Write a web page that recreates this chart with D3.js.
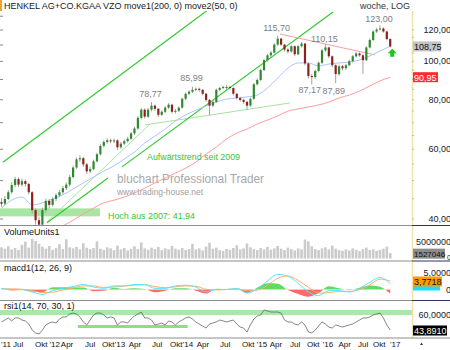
<!DOCTYPE html>
<html>
<head>
<meta charset="utf-8">
<style>
  body { margin: 0; background: #fff; }
  svg { display: block; font-family: "Liberation Sans", Arial, sans-serif; }
</style>
</head>
<body>
<svg width="450" height="350"></svg>
<script src="https://d3js.org/d3.v7.min.js"></script>
<script>
// one bar every 0.05 year, first bar at 2011.23
var start = 2011.23, step = 0.05;
var firstOpen = 44.0;
var closes = [43.6, 44.8, 46.6, 48.6, 50.3, 48.7, 49.7, 48.9, 46.6, 42.0,
  39.6, 38.6, 42.0, 44.3, 43.3, 44.8, 45.8, 46.6, 47.7, 48.7,
  50.9, 53.8, 56.4, 56.8, 54.8, 52.6, 53.3, 55.8, 58.1, 61.0,
  62.4, 63.0, 62.7, 63.0, 60.5, 61.8, 62.7, 63.6, 65.6, 67.5,
  71.8, 75.3, 72.3, 75.3, 77.1, 75.7, 73.1, 74.4, 76.2, 77.5,
  74.4, 74.8, 76.2, 80.2, 82.6, 83.6, 84.5, 85.0, 84.5, 82.6,
  79.7, 77.1, 78.8, 84.5, 85.4, 85.9, 85.9, 85.4, 82.6, 80.6,
  79.7, 78.8, 77.1, 80.2, 87.3, 89.5, 94.8, 100.4, 103.3, 104.9,
  109.9, 113.8, 109.9, 106.8, 105.6, 108.9, 103.9, 108.9, 110.6, 98.5,
  91.6, 91.0, 94.3, 98.9, 106.3, 108.1, 102.7, 97.5, 92.6, 96.9,
  95.8, 97.5, 99.8, 102.7, 104.4, 103.3, 100.4, 108.1, 112.9, 118.6,
  120.0, 120.7, 118.6, 113.5, 108.75];
var highs = [45.0, 45.6, 47.2, 49.4, 51.0, 50.8, 50.4, 50.2, 49.3, 46.9,
  42.4, 40.3, 42.6, 44.9, 44.8, 45.3, 46.3, 47.2, 48.3, 49.3,
  51.5, 54.4, 57.0, 57.8, 57.2, 55.2, 54.0, 56.3, 58.6, 61.6,
  63.0, 63.8, 63.6, 63.7, 63.4, 62.4, 63.3, 64.3, 66.2, 68.2,
  72.5, 76.0, 75.8, 76.0, 78.77, 77.6, 76.1, 75.0, 76.9, 78.2,
  77.9, 75.6, 76.8, 80.8, 83.2, 84.3, 85.99, 85.7, 85.6, 84.9,
  83.0, 80.1, 79.5, 85.1, 86.0, 86.6, 86.8, 86.5, 85.8, 83.1,
  81.2, 80.3, 79.2, 80.8, 87.9, 90.3, 95.6, 101.2, 104.1, 105.9,
  110.8, 115.7, 114.4, 110.5, 107.6, 109.7, 109.4, 109.6, 111.6, 111.0,
  99.0, 92.6, 95.1, 99.7, 107.2, 110.15, 108.7, 103.2, 98.0, 97.8,
  97.6, 98.3, 100.6, 103.5, 105.2, 105.1, 103.9, 108.9, 113.8, 119.5,
  121.0, 123.0, 121.5, 119.2, 114.1];
var lows = [42.8, 43.2, 44.5, 46.2, 48.0, 48.0, 48.2, 48.1, 46.0, 41.2,
  38.6, 37.2, 38.0, 41.4, 42.4, 42.9, 44.2, 45.3, 46.1, 47.2,
  48.2, 50.5, 53.4, 55.6, 54.0, 51.8, 52.0, 53.0, 55.4, 57.7,
  60.5, 61.8, 61.9, 62.0, 59.6, 60.0, 61.2, 62.2, 63.2, 65.0,
  67.0, 71.2, 71.5, 71.8, 74.6, 74.8, 72.2, 72.5, 73.8, 75.6,
  73.6, 73.6, 74.2, 75.8, 79.6, 81.9, 83.0, 83.8, 83.6, 81.8,
  78.9, 72.9, 76.4, 78.3, 83.9, 84.8, 84.9, 84.6, 81.8, 79.8,
  78.9, 77.9, 75.2, 76.6, 79.8, 86.6, 89.0, 94.2, 99.6, 102.4,
  104.2, 109.2, 109.0, 105.6, 104.4, 104.9, 102.8, 103.3, 108.1, 97.4,
  90.2, 87.17, 90.2, 93.6, 98.2, 105.4, 101.6, 96.4, 87.89, 91.8,
  94.6, 95.0, 96.9, 99.1, 101.9, 102.4, 92.8, 99.8, 107.4, 112.2,
  117.6, 119.2, 117.8, 112.6, 108.0];
// weekly volume, millions
var volume = [3.2, 2.8, 3.5, 2.6, 3.0, 2.4, 3.9, 4.8, 3.1, 5.6, 5.0,
  4.2, 3.4, 2.8, 3.6, 2.5, 3.0, 4.1, 2.7, 5.5, 3.2,
  2.9, 3.3, 2.6, 4.4, 3.1, 2.7, 3.0, 4.9, 2.8, 2.5,
  3.2, 2.9, 2.4, 3.7, 2.6, 3.0, 2.3, 2.8, 3.5, 2.7,
  4.6, 2.9, 2.5, 3.1, 2.7, 3.3, 2.4, 2.9, 2.6, 3.6,
  2.8, 2.5, 3.0, 2.4, 2.7, 4.2, 2.6, 2.9, 2.3, 3.4,
  4.5, 2.8, 3.1, 2.4, 2.2, 2.7, 2.5, 3.0, 3.8, 2.6,
  2.9, 4.3, 3.2, 2.7, 2.4, 3.0, 2.6, 3.3, 2.5, 2.9,
  3.6, 2.8, 2.4, 3.1, 2.7, 2.3, 2.9, 2.6, 5.4, 4.9,
  3.5, 2.7, 2.4, 2.9, 3.2, 2.6, 3.7, 2.8, 2.4, 2.2,
  2.6, 2.3, 2.9, 2.5, 2.1, 2.7, 3.1, 2.4, 2.6, 2.2,
  2.5, 2.8, 3.4, 1.527046];
var rsi = [52.5, 54.6, 56.8, 53.6, 56.8, 56.8, 54.6, 53.6, 50.3, 43.9,
  40.7, 39.6, 43.9, 49.3, 51.4, 52.5, 51.4, 55.7, 57.9, 57.9,
  61.1, 62.1, 61.1, 57.9, 52.5, 49.3, 54.6, 60.0, 62.1, 62.1,
  60.0, 56.8, 57.9, 56.8, 49.3, 52.5, 52.5, 51.4, 55.7, 58.9,
  61.1, 63.2, 56.8, 56.8, 54.6, 49.3, 50.3, 51.4, 49.3, 53.6,
  52.5, 49.3, 52.5, 54.6, 56.8, 57.9, 55.7, 52.5, 50.3, 48.2,
  46.0, 50.3, 51.4, 52.5, 54.6, 53.6, 52.5, 53.6, 54.6, 50.3,
  47.1, 46.0, 41.7, 49.3, 55.7, 58.9, 60.0, 65.4, 64.3, 63.2,
  63.2, 63.2, 62.1, 54.6, 52.5, 52.5, 50.3, 49.3, 52.5, 49.3,
  41.7, 40.7, 43.9, 48.2, 52.5, 50.3, 47.1, 46.0, 49.3, 48.2,
  47.1, 48.2, 49.3, 50.3, 52.5, 54.6, 56.8, 56.8, 57.9, 60.0,
  61.1, 62.1, 56.8, 49.3, 43.891];

// smoother series, sampled every third bar
var ma50 = [42.5, 44.5, 45.3, 43.3, 43.8, 44.8, 45.9, 47.5, 49.2, 50.9,
  52.7, 54.3, 56.5, 58.9, 62.0, 64.6, 67.3, 70.5, 73.0, 75.1,
  76.9, 78.7, 80.1, 80.6, 81.1, 82.0, 85.4, 90.5, 95.9, 98.8,
  98.8, 97.1, 98.2, 98.8, 99.3, 100.5, 102.9, 105.9, 109.0];
var ma200 = [null, null, null, null, null, null, 38.3, 39.6, 41.1, 42.5,
  43.8, 44.5, 45.3, 46.4, 47.7, 49.2, 50.6, 52.1, 53.6, 55.5,
  58.2, 60.6, 63.5, 65.7, 67.3, 69.3, 70.9, 72.6, 74.7, 75.6,
  76.5, 77.4, 78.7, 80.6, 82.0, 83.9, 86.4, 89.0, 90.95];
var macd = [0.5, 0, 0, -1.1, -2.2, -0.5, 0.5, 1.3, 2.2, 1.1,
  0.5, 1.6, 1.6, 2.2, 2.2, 0.5, 0.5, 1.6, 1.9, 1.1,
  -1.1, 0, 0, 0.5, -1.6, 0.3, 3.8, 6.7, 5.9, 2.7,
  -1.1, -2.7, -0.5, -0.5, -1.1, 0.5, 3.2, 5.4, 2.6];
var signal = [0.3, 0.3, 0.1, -0.5, -1.4, -1.2, -0.2, 0.7, 1.6, 1.6,
  0.9, 1.1, 1.5, 1.9, 2.1, 1.3, 0.8, 1.2, 1.6, 1.4,
  0.1, -0.2, 0.0, 0.3, -0.6, -0.3, 1.9, 5.0, 6.0, 4.0,
  1.0, -1.6, -1.4, -0.8, -0.9, 0.0, 2.0, 4.6, 3.7718];
var hist = [0.3, -0.4, -0.2, -0.9, -1.2, 1.0, 1.0, 0.9, 0.9, -0.8,
  -0.6, 0.8, 0.2, 0.5, 0.2, -1.2, -0.5, 0.6, 0.5, -0.5,
  -1.8, 0.3, 0.0, 0.3, -1.5, 0.9, 2.8, 2.6, -0.2, -2.0,
  -3.2, -1.6, 1.4, 0.5, -0.3, 0.8, 1.8, 1.2, -1.8];

// drawn lines: [year, price]
var channelTop = [[2011.252, 55.5], [2014.27, 135.0]];
var trend2009 = [[2012.997, 54.0], [2016.091, 132.9]];
var trendShort = [[2011.897, 39.0], [2012.792, 50.6]];
var trendThin = [[2011.897, 39.2], [2013.408, 69.3]];
var support = [[2013.334, 68.9], [2015.46, 78.3]];
var resistance = [[2015.314, 116.9], [2016.707, 103.5]];
var hoch2007 = 41.94, hochSpan = [2011.208, 2012.674];
var rsiBand = [60, 65.4];
var rsiSupport = [[2012.35, 47.6], [2013.96, 47.6]];

var peakBars = [44, 56, 81, 95, 111];
var troughBars = [91, 98];
var priceTicks = [40, 60, 80, 100, 120];
var tickText = ["'11", "Jul", "Okt", "'12", "Apr", "Jul", "Okt", "'13", "Apr", "Jul", "Okt",
  "'14", "Apr", "Jul", "Okt", "'15", "Apr", "Jul", "Okt", "'16", "Apr", "Jul", "Okt", "'17"];
var tickAt = [2011.223, 2011.399, 2011.721, 2011.935, 2012.1, 2012.455, 2012.704, 2012.89, 2013.095, 2013.437, 2013.701,
  2013.887, 2014.092, 2014.434, 2014.757, 2014.972, 2015.163, 2015.46, 2015.71, 2015.94, 2016.17, 2016.457, 2016.677, 2016.927];

var svg = d3.select("svg");
var plotR = 412;
var x = d3.scaleLinear().domain([2012, 2017]).range([54, 395]);
var y = d3.scaleLog().domain([40, 120]).range([218.5, 29.5]);
var yVol = d3.scaleLinear().domain([0, 5]).range([258.5, 241]);
var yMacd = d3.scaleLinear().domain([0, 3.7718]).range([289.5, 281]);
var yRsi = d3.scaleLinear().domain([43.891, 60]).range([330, 315]);

var fmt2 = function (v) { return d3.format(".2f")(v).replace(".", ","); };
var fmt4 = function (v) { return d3.format(".4f")(v).replace(".", ","); };

var bars = closes.map(function (c, i) {
  return { i: i, t: start + step * i, o: i ? closes[i - 1] : firstOpen, h: highs[i], l: lows[i], c: c, v: volume[i], r: rsi[i] };
});
var samples = ma50.map(function (m, k) {
  return { t: start + 3 * step * k, m50: m, m200: ma200[k], macd: macd[k], sig: signal[k], h: hist[k] };
});

var defs = svg.append("defs");
function clip(id, y0, y1) {
  defs.append("clipPath").attr("id", id).append("rect")
    .attr("x", 0).attr("y", y0).attr("width", plotR).attr("height", y1 - y0);
}
clip("cMain", 11, 225);
clip("cVol", 226, 261);
clip("cMacd", 262, 300);
clip("cRsi", 301, 338);
defs.append("clipPath").attr("id", "cPos").append("rect").attr("x", 0).attr("y", 262).attr("width", plotR).attr("height", yMacd(0) - 262);
defs.append("clipPath").attr("id", "cNeg").append("rect").attr("x", 0).attr("y", yMacd(0)).attr("width", plotR).attr("height", 300 - yMacd(0));

// ---- main panel
var g = svg.append("g").attr("clip-path", "url(#cMain)");
var seg = d3.line().x(function (d) { return x(d[0]); }).y(function (d) { return y(d[1]); });

g.append("rect")
  .attr("x", x(hochSpan[0])).attr("width", x(hochSpan[1]) - x(hochSpan[0]))
  .attr("y", y(hoch2007) - 2).attr("height", 8)
  .attr("fill", "#a9e6a3");

// watermark
g.append("text").text("bluchart Professional Trader")
  .attr("x", 117).attr("y", 183).attr("font-size", 12).attr("fill", "#a8a8a8")
  .attr("textLength", 147).attr("lengthAdjust", "spacingAndGlyphs");
g.append("text").text("www.trading-house.net")
  .attr("x", 117).attr("y", 195).attr("font-size", 9).attr("fill", "#a0a0a0")
  .attr("textLength", 86).attr("lengthAdjust", "spacingAndGlyphs");

g.append("path").datum(trendThin).attr("d", seg).attr("stroke", "#a6e3a0").attr("stroke-width", 1).attr("fill", "none");
g.append("path").datum(support).attr("d", seg).attr("stroke", "#a6e3a0").attr("stroke-width", 1).attr("fill", "none");
[channelTop, trend2009, trendShort].forEach(function (l) {
  g.append("path").datum(l).attr("d", seg).attr("stroke", "#2ecc2e").attr("stroke-width", 1.2).attr("fill", "none");
});
g.append("path").datum(resistance).attr("d", seg).attr("stroke", "#f4a0a0").attr("stroke-width", 1).attr("fill", "none");

var maLine = function (key) {
  return d3.line().defined(function (d) { return d[key] != null; })
    .x(function (d) { return x(d.t); }).y(function (d) { return y(d[key]); }).curve(d3.curveMonotoneX);
};
g.append("path").datum(samples).attr("d", maLine("m200")).attr("stroke", "#ff9c9c").attr("fill", "none");
g.append("path").datum(samples).attr("d", maLine("m50")).attr("stroke", "#a9c3ff").attr("fill", "none");

var candle = g.append("g").selectAll("g").data(bars).enter().append("g");
candle.append("line")
  .attr("x1", function (d) { return x(d.t); }).attr("x2", function (d) { return x(d.t); })
  .attr("y1", function (d) { return y(d.h); }).attr("y2", function (d) { return y(d.l); })
  .attr("stroke", "#a0a0a0").attr("stroke-width", 1);
candle.append("rect")
  .attr("x", function (d) { return x(d.t) - 1.1; }).attr("width", 2.2)
  .attr("y", function (d) { return y(Math.max(d.o, d.c)); })
  .attr("height", function (d) { return Math.max(1, Math.abs(y(d.o) - y(d.c))); })
  .attr("fill", function (d) { return d.c >= d.o ? "#2f8a2f" : "#8e2020"; });

// green arrow under the last bar
var last = bars[bars.length - 1];
var ax = x(last.t) + 2, ay = y(last.l) + 1;
g.append("path")
  .attr("d", "M" + ax + "," + ay + "l4.5,4.5h-2.5v3.5h-4v-3.5h-2.5z")
  .attr("fill", "#19c819");

svg.append("text").text("Aufwärtstrend seit 2009")
  .attr("x", 147).attr("y", 160).attr("font-size", 9).attr("fill", "#33c833")
  .attr("textLength", 93).attr("lengthAdjust", "spacingAndGlyphs");
svg.append("text").text("Hoch aus 2007: " + fmt2(hoch2007))
  .attr("x", 108).attr("y", 219).attr("font-size", 9).attr("fill", "#33c833")
  .attr("textLength", 87).attr("lengthAdjust", "spacingAndGlyphs");

// high / low labels
var peakDy = [-5, -6, -5, -2.5, -3];
peakBars.forEach(function (i, k) {
  svg.append("text").text(fmt2(highs[i]))
    .attr("x", x(bars[i].t) - 1).attr("y", y(highs[i]) + peakDy[k])
    .attr("text-anchor", "middle").attr("font-size", 9).attr("fill", "#808080");
});
var troughDy = [8.5, 10.5];
troughBars.forEach(function (i, k) {
  svg.append("text").text(fmt2(lows[i]))
    .attr("x", x(bars[i].t) - 2).attr("y", y(lows[i]) + troughDy[k])
    .attr("text-anchor", "middle").attr("font-size", 9).attr("fill", "#808080");
});

// title
svg.append("rect").attr("x", 0).attr("y", 0).attr("width", 2).attr("height", 11).attr("fill", "#f0a030");
svg.append("text").text("HENKEL AG+CO.KGAA VZO move1(200, 0) move2(50, 0)")
  .attr("x", 4).attr("y", 9).attr("font-size", 9).attr("fill", "#1a1a1a");
svg.append("text").text("woche, LOG")
  .attr("x", 360).attr("y", 9).attr("font-size", 9).attr("fill", "#333");

// left ticks
svg.append("g").selectAll("line").data(d3.range(40, 140, 10)).enter().append("line")
  .attr("x1", 0).attr("x2", 3)
  .attr("y1", function (d) { return y(d) + 0.5; }).attr("y2", function (d) { return y(d) + 0.5; })
  .attr("stroke", "#888");

// ---- volume
svg.append("g").attr("clip-path", "url(#cVol)").selectAll("rect").data(bars).enter().append("rect")
  .attr("x", function (d) { return x(d.t) - 1.3; }).attr("width", 2.6)
  .attr("y", function (d) { return yVol(d.v); })
  .attr("height", function (d) { return yVol(0) - yVol(d.v); })
  .attr("fill", "#cbcbcb");

// ---- macd
var gm = svg.append("g").attr("clip-path", "url(#cMacd)");
var histArea = d3.area().x(function (d) { return x(d.t); })
  .y0(yMacd(0)).y1(function (d) { return yMacd(d.h); }).curve(d3.curveMonotoneX);
gm.append("g").attr("clip-path", "url(#cPos)").append("path").datum(samples).attr("d", histArea).attr("fill", "#5fdc5f");
gm.append("g").attr("clip-path", "url(#cNeg)").append("path").datum(samples).attr("d", histArea).attr("fill", "#ff6a6a");
gm.append("path").datum(samples)
  .attr("d", d3.line().x(function (d) { return x(d.t); }).y(function (d) { return yMacd(d.sig); }).curve(d3.curveMonotoneX))
  .attr("stroke", "#ffb060").attr("fill", "none");
gm.append("path").datum(samples)
  .attr("d", d3.line().x(function (d) { return x(d.t); }).y(function (d) { return yMacd(d.macd); }).curve(d3.curveMonotoneX))
  .attr("stroke", "#55e5ff").attr("fill", "none");

// ---- rsi
var gr = svg.append("g").attr("clip-path", "url(#cRsi)");
gr.append("rect").attr("x", 0).attr("width", plotR)
  .attr("y", yRsi(rsiBand[1])).attr("height", yRsi(rsiBand[0]) - yRsi(rsiBand[1]))
  .attr("fill", "#a6eaa6");
gr.append("path").datum(rsiSupport)
  .attr("d", d3.line().x(function (d) { return x(d[0]); }).y(function (d) { return yRsi(d[1]); }))
  .attr("stroke", "#8fdc8f").attr("stroke-width", 3);
gr.append("path").datum(bars)
  .attr("d", d3.line().x(function (d) { return x(d.t); }).y(function (d) { return yRsi(d.r); }))
  .attr("stroke", "#666").attr("stroke-width", 0.8).attr("fill", "none");

// panel titles
[["VolumeUnits1", 235], ["macd1(12, 26, 9)", 271], ["rsi1(14, 70, 30, 1)", 309]].forEach(function (p) {
  svg.append("text").text(p[0]).attr("x", 4).attr("y", p[1]).attr("font-size", 9).attr("fill", "#111");
});

// ---- right strip
svg.append("rect").attr("x", plotR).attr("y", 11).attr("width", 450 - plotR).attr("height", 327).attr("fill", "#fff");
svg.append("line").attr("x1", plotR + 0.5).attr("x2", plotR + 0.5).attr("y1", 11).attr("y2", 338)
  .attr("stroke", "#f2e2a8").attr("stroke-width", 1.5);
svg.append("g").selectAll("line").data(d3.range(40, 125, 5)).enter().append("line")
  .attr("x1", plotR).attr("x2", plotR + 2)
  .attr("y1", function (d) { return y(d) + 0.5; }).attr("y2", function (d) { return y(d) + 0.5; })
  .attr("stroke", "#bbb");

var axisText = svg.append("g").attr("font-size", 9).attr("text-anchor", "end").attr("fill", "#222");
priceTicks.forEach(function (v) {
  axisText.append("text").text(fmt2(v)).attr("x", 451).attr("y", y(v) + 3.5);
});
function box(yy, w, bg, fg, label) {
  svg.append("rect").attr("x", plotR + 1).attr("y", yy - 5).attr("width", w).attr("height", 10).attr("fill", bg);
  return svg.append("text").text(label).attr("x", plotR + 2).attr("y", yy + 3.5).attr("font-size", 9).attr("fill", fg);
}
var lastMa = ma200[ma200.length - 1], lastSig = signal[signal.length - 1];
box(y(last.c), 28, "#c4c4c4", "#111", fmt2(last.c));
box(y(lastMa), 25, "#ff2a2a", "#fff", fmt2(lastMa));

axisText.append("text").text("5000000").attr("x", 451).attr("y", yVol(5) + 3.5);
box(yVol(last.v) + 0.5, 32, "#8c8c8c", "#111", String(Math.round(last.v * 1e6)))
  .attr("font-size", 8).attr("y", yVol(last.v) + 3.5);
axisText.append("text").text("0").attr("x", 451).attr("y", yVol(0) + 1.5).attr("font-size", 7);

axisText.append("text").text(fmt4(5)).attr("x", 451).attr("y", yMacd(5) - 2);
svg.append("rect").attr("x", plotR + 1).attr("y", yMacd(0) - 4).attr("width", 27).attr("height", 5).attr("fill", "#19e0ff");
box(yMacd(lastSig) + 0.5, 29, "#ff9a00", "#111", fmt4(lastSig));
axisText.append("text").text("0").attr("x", 451).attr("y", yMacd(0) + 3.5);

axisText.append("text").text(fmt4(60)).attr("x", 451).attr("y", yRsi(60) + 2.5);
box(yRsi(last.r) + 0.5, 34, "#000", "#fff", fmt4(last.r));

// separators
[225.5, 261, 300.5].forEach(function (yy) {
  svg.append("line").attr("x1", 0).attr("x2", plotR).attr("y1", yy).attr("y2", yy).attr("stroke", "#8c8c8c");
  svg.append("line").attr("x1", plotR).attr("x2", 450).attr("y1", yy).attr("y2", yy).attr("stroke", "#2b3566");
});
svg.append("line").attr("x1", 0).attr("x2", 450).attr("y1", 338).attr("y2", 338).attr("stroke", "#8c8c8c");
svg.append("path").attr("d", "M420,345l1.5,-2.5l1.5,2.5z").attr("fill", "#2b3566");

// x axis
svg.append("g").attr("font-size", 8).attr("fill", "#111")
  .selectAll("text").data(tickText).enter().append("text")
  .text(function (d) { return d; })
  .attr("x", function (d, i) { return x(tickAt[i]); })
  .attr("y", 347);
</script>
</body>
</html>
